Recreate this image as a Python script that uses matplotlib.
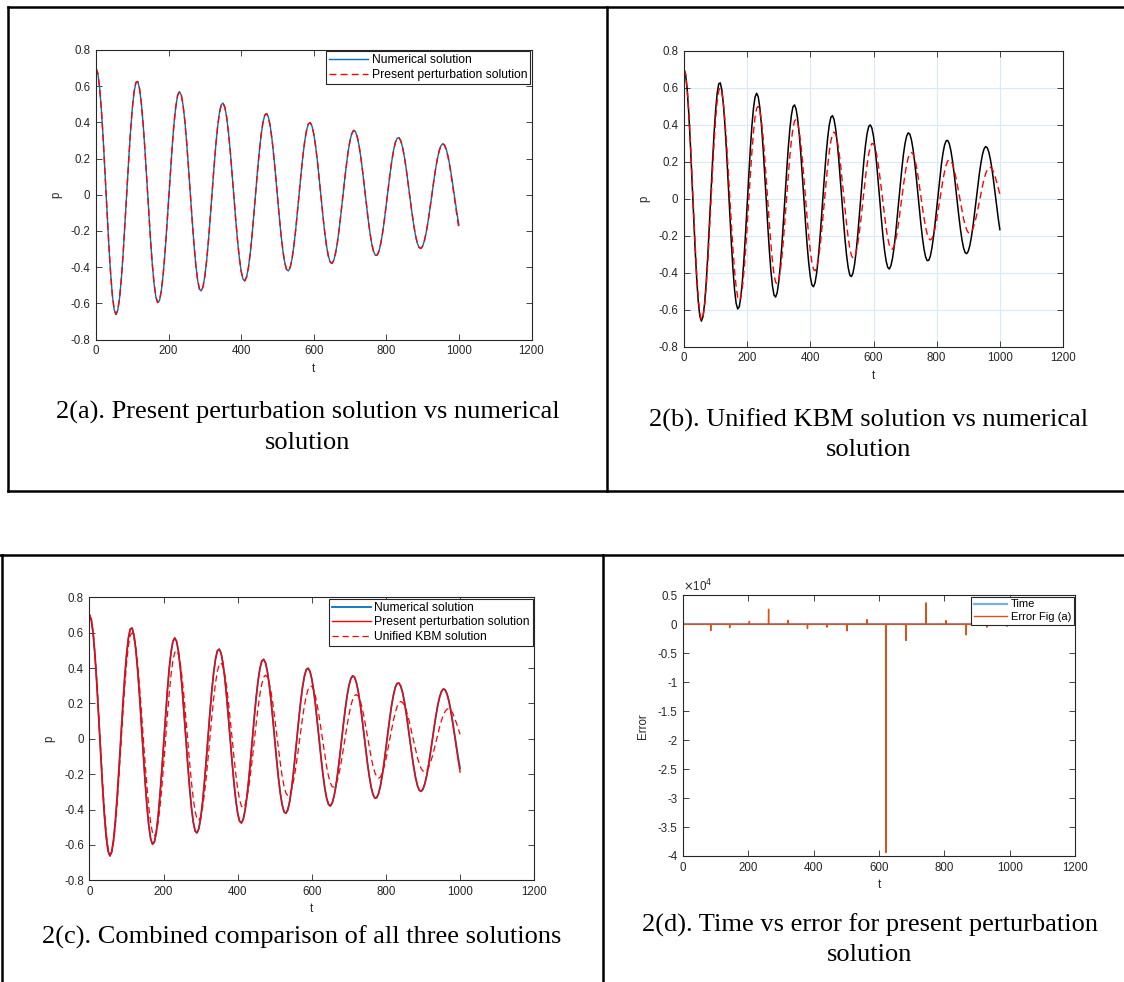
import numpy as np
import matplotlib
matplotlib.use("Agg")
import matplotlib.pyplot as plt
from matplotlib.lines import Line2D
from matplotlib.ticker import FuncFormatter, MultipleLocator

plt.rcParams['font.family'] = ['Liberation Sans', 'DejaVu Sans']
plt.rcParams['axes.unicode_minus'] = False

W, H = 1124, 982

# sampling times, every 5 units from 0 to 1000
t = np.arange(0, 1001, 5)

# numerical solution p(t)
p_num = [0.700, 0.672, 0.592, 0.465, 0.302, 0.116, -0.078, -0.264, -0.427, -0.554,
         -0.634, -0.662, -0.638, -0.570, -0.460, -0.319, -0.155, 0.019, 0.190, 0.347,
         0.476, 0.570, 0.621, 0.626, 0.586, 0.505, 0.388, 0.244, 0.083, -0.083,
         -0.241, -0.381, -0.491, -0.565, -0.596, -0.584, -0.531, -0.442, -0.323, -0.182,
         -0.029, 0.125, 0.269, 0.394, 0.489, 0.550, 0.570, 0.551, 0.494, 0.403,
         0.286, 0.149, 0.004, -0.141, -0.274, -0.387, -0.471, -0.521, -0.532, -0.508,
         -0.449, -0.361, -0.249, -0.121, 0.015, 0.148, 0.271, 0.374, 0.451, 0.497,
         0.507, 0.484, 0.429, 0.345, 0.239, 0.118, -0.010, -0.137, -0.253, -0.350,
         -0.423, -0.466, -0.476, -0.454, -0.402, -0.324, -0.224, -0.110, 0.011, 0.130,
         0.239, 0.331, 0.399, 0.440, 0.449, 0.429, 0.380, 0.306, 0.212, 0.105,
         -0.009, -0.121, -0.224, -0.310, -0.374, -0.413, -0.421, -0.402, -0.356, -0.286,
         -0.198, -0.096, 0.010, 0.116, 0.213, 0.294, 0.355, 0.391, 0.399, 0.381,
         0.337, 0.271, 0.187, 0.091, -0.010, -0.111, -0.203, -0.280, -0.337, -0.371,
         -0.380, -0.363, -0.324, -0.266, -0.190, -0.104, -0.012, 0.080, 0.166, 0.242,
         0.300, 0.339, 0.356, 0.349, 0.319, 0.270, 0.203, 0.123, 0.036, -0.053,
         -0.137, -0.212, -0.273, -0.315, -0.335, -0.333, -0.310, -0.266, -0.206, -0.133,
         -0.052, 0.032, 0.113, 0.186, 0.246, 0.290, 0.313, 0.315, 0.297, 0.260,
         0.206, 0.140, 0.065, -0.014, -0.091, -0.161, -0.221, -0.265, -0.291, -0.297,
         -0.284, -0.253, -0.207, -0.148, -0.080, -0.008, 0.065, 0.133, 0.192, 0.238,
         0.269, 0.282, 0.276, 0.253, 0.214, 0.161, 0.098, 0.030, -0.041, -0.107,
         -0.167]

# present perturbation solution p(t)
p_pert = [0.700, 0.672, 0.592, 0.465, 0.302, 0.116, -0.078, -0.264, -0.427, -0.554,
          -0.634, -0.662, -0.638, -0.570, -0.460, -0.319, -0.155, 0.019, 0.190, 0.347,
          0.476, 0.570, 0.621, 0.626, 0.586, 0.505, 0.388, 0.244, 0.083, -0.083,
          -0.241, -0.381, -0.491, -0.565, -0.596, -0.584, -0.531, -0.442, -0.323, -0.182,
          -0.029, 0.125, 0.269, 0.394, 0.489, 0.550, 0.570, 0.551, 0.494, 0.403,
          0.286, 0.149, 0.004, -0.141, -0.274, -0.387, -0.471, -0.521, -0.532, -0.508,
          -0.449, -0.361, -0.249, -0.121, 0.015, 0.148, 0.271, 0.374, 0.451, 0.497,
          0.507, 0.484, 0.429, 0.345, 0.239, 0.118, -0.010, -0.137, -0.253, -0.350,
          -0.423, -0.466, -0.476, -0.454, -0.402, -0.324, -0.224, -0.110, 0.011, 0.130,
          0.239, 0.331, 0.399, 0.440, 0.449, 0.429, 0.380, 0.306, 0.212, 0.105,
          -0.009, -0.121, -0.224, -0.310, -0.374, -0.413, -0.421, -0.402, -0.356, -0.286,
          -0.198, -0.096, 0.010, 0.116, 0.213, 0.294, 0.355, 0.391, 0.399, 0.381,
          0.337, 0.271, 0.187, 0.091, -0.010, -0.111, -0.203, -0.280, -0.337, -0.371,
          -0.380, -0.363, -0.324, -0.266, -0.190, -0.104, -0.012, 0.080, 0.166, 0.242,
          0.300, 0.339, 0.356, 0.349, 0.319, 0.270, 0.203, 0.123, 0.036, -0.053,
          -0.137, -0.212, -0.273, -0.315, -0.335, -0.333, -0.310, -0.266, -0.206, -0.133,
          -0.052, 0.032, 0.113, 0.186, 0.246, 0.290, 0.313, 0.315, 0.297, 0.260,
          0.206, 0.140, 0.065, -0.014, -0.091, -0.161, -0.221, -0.265, -0.291, -0.297,
          -0.284, -0.253, -0.207, -0.148, -0.080, -0.008, 0.065, 0.133, 0.192, 0.238,
          0.269, 0.282, 0.275, 0.250, 0.209, 0.155, 0.088, 0.018, -0.055, -0.124,
          -0.188]

# unified KBM solution p(t)
p_kbm = [0.700, 0.674, 0.596, 0.474, 0.316, 0.136, -0.054, -0.237, -0.401, -0.531,
         -0.618, -0.655, -0.641, -0.583, -0.484, -0.352, -0.196, -0.028, 0.140, 0.296,
         0.428, 0.527, 0.585, 0.599, 0.573, 0.510, 0.415, 0.295, 0.157, 0.010,
         -0.136, -0.271, -0.387, -0.475, -0.531, -0.550, -0.532, -0.477, -0.391, -0.279,
         -0.150, -0.011, 0.127, 0.253, 0.361, 0.441, 0.488, 0.499, 0.476, 0.422,
         0.341, 0.237, 0.119, -0.006, -0.130, -0.243, -0.338, -0.410, -0.451, -0.461,
         -0.440, -0.390, -0.314, -0.218, -0.109, 0.007, 0.122, 0.227, 0.315, 0.381,
         0.420, 0.429, 0.410, 0.364, 0.294, 0.206, 0.105, -0.001, -0.107, -0.203,
         -0.285, -0.345, -0.381, -0.390, -0.372, -0.331, -0.270, -0.191, -0.101, -0.005,
         0.090, 0.178, 0.254, 0.311, 0.348, 0.360, 0.349, 0.316, 0.263, 0.195,
         0.114, 0.028, -0.059, -0.141, -0.213, -0.269, -0.306, -0.322, -0.315, -0.289,
         -0.245, -0.185, -0.113, -0.035, 0.045, 0.121, 0.188, 0.243, 0.280, 0.298,
         0.297, 0.276, 0.238, 0.185, 0.121, 0.050, -0.024, -0.095, -0.159, -0.212,
         -0.250, -0.271, -0.273, -0.257, -0.226, -0.180, -0.123, -0.059, 0.008, 0.074,
         0.134, 0.185, 0.222, 0.244, 0.250, 0.242, 0.218, 0.181, 0.132, 0.075,
         0.014, -0.048, -0.105, -0.154, -0.191, -0.215, -0.223, -0.216, -0.194, -0.159,
         -0.115, -0.062, -0.006, 0.050, 0.103, 0.147, 0.182, 0.204, 0.211, 0.205,
         0.188, 0.159, 0.122, 0.079, 0.032, -0.017, -0.064, -0.107, -0.142, -0.168,
         -0.183, -0.187, -0.179, -0.162, -0.135, -0.100, -0.060, -0.017, 0.026, 0.068,
         0.105, 0.135, 0.156, 0.168, 0.170, 0.162, 0.145, 0.120, 0.090, 0.058,
         0.025]

# error of the perturbation solution, spikes near the zero crossings
err_t = [85, 143, 203, 262, 322, 381, 441, 502, 563, 621, 683, 744, 805, 867, 930, 992]
err_v = [-1100, -600, 500, 2600, 700, -750, -500, -1150, 800, -39400,
         -2800, 3700, 630, -1840, -500, -350]
time_t = [0, 1000]
time_v = [0, 0]

captions = ["2(a). Present perturbation solution vs numerical\nsolution",
            "2(b). Unified KBM solution vs numerical\nsolution",
            "2(c). Combined comparison of all three solutions",
            "2(d). Time vs error for present perturbation\nsolution"]

BLUE = '#0072BD'
ORANGE = '#D95319'
INK = '#262626'


def box(left, top, right, bottom):
    # pixel box -> figure fractions
    return [left / W, 1 - bottom / H, (right - left) / W, (bottom - top) / H]


def style(ax, ylab):
    ax.set_xlim(0, 1200)
    ax.xaxis.set_major_locator(MultipleLocator(200))
    ax.tick_params(direction='in', top=True, right=True, length=4, width=0.6,
                   labelsize=8.3, pad=4, colors=INK)
    for s in ax.spines.values():
        s.set_linewidth(0.8)
        s.set_color(INK)
    ax.set_xlabel('t', fontsize=8.3, labelpad=4, color=INK)
    ax.set_ylabel(ylab, fontsize=8.3, labelpad=6, color=INK)


def p_axis(ax):
    ax.set_ylim(-0.8, 0.8)
    ax.yaxis.set_major_locator(MultipleLocator(0.2))
    ax.yaxis.set_major_formatter(FuncFormatter(lambda v, _: '0' if abs(v) < 1e-9 else f'{v:.1f}'))


def legend(ax, size=8.7, hl=3.2):
    lg = ax.legend(loc='upper right', fontsize=size, frameon=True, fancybox=False,
                   framealpha=1, edgecolor=INK, borderaxespad=0.12,
                   handlelength=hl, handletextpad=0.3, borderpad=0.25,
                   labelspacing=0.22)
    lg.get_frame().set_linewidth(0.8)


fig = plt.figure(figsize=(W / 100, H / 100), dpi=100)

# (a) perturbation vs numerical
ax = fig.add_axes(box(96, 50, 531.5, 339.5))
ax.plot(t, p_num, color=BLUE, lw=1.0, label='Numerical solution')
ax.plot(t, p_pert, color='red', lw=1.0, dashes=(5, 3), label='Present perturbation solution')
style(ax, 'p')
p_axis(ax)
legend(ax)

# (b) KBM vs numerical
ax = fig.add_axes(box(684, 50.7, 1063, 346.7))
ax.plot(t, p_num, color='black', lw=1.1)
ax.plot(t, p_kbm, color='red', lw=1.0, dashes=(5, 3))
style(ax, 'p')
p_axis(ax)
ax.grid(True, color='#d8eaf8', lw=0.8)
ax.set_axisbelow(True)

# (c) all three
ax = fig.add_axes(box(89.5, 597.3, 534.2, 880.3))
ax.plot(t, p_num, color=BLUE, lw=1.3, label='Numerical solution')
ax.plot(t, p_pert, color='red', lw=1.0, label='Present perturbation solution')
ax.plot(t, p_kbm, color='red', lw=0.9, dashes=(5, 3), label='Unified KBM solution')
style(ax, 'p')
p_axis(ax)
legend(ax)

# (d) error vs time
ax = fig.add_axes(box(683, 595.3, 1075, 856))
et, ev = [0], [0]
for ts, v in zip(err_t, err_v):
    et += [ts - 0.7, ts, ts + 0.7]
    ev += [0, v, 0]
et.append(1000)
ev.append(0)
ax.plot(time_t, time_v, color='#76b3e3', lw=1.6, label='Time')
ax.plot(et, ev, color=ORANGE, lw=1.0, label='Error Fig (a)')
style(ax, 'Error')
ax.set_ylim(-40000, 5000)
ax.yaxis.set_major_locator(MultipleLocator(5000))
ax.yaxis.set_major_formatter(FuncFormatter(lambda v, _: f'{v / 1e4:g}'))
ax.text(0.0, 1.004, r'$\times$10$^4$', transform=ax.transAxes, fontsize=8.3,
        color=INK, va='bottom', ha='left')
legend(ax, size=8, hl=3.0)

# captions
cap_pos = [(308, 427.5), (869, 434.5), (302, 937), (870, 940)]
for (x, y), s in zip(cap_pos, captions):
    fig.text(x / W, 1 - y / H, s, family='Liberation Serif', fontsize=19,
             ha='center', va='center', linespacing=1.42)

# table rules around the panels
rules = [((8, 7), (1124, 7)), ((8, 491), (1124, 491)), ((8, 7), (8, 491)),
         ((607, 7), (607, 491)), ((0, 555), (1124, 555)), ((1.5, 555), (1.5, 982)),
         ((603, 555), (603, 982))]
for (x0, y0), (x1, y1) in rules:
    fig.add_artist(Line2D([x0 / W, x1 / W], [1 - y0 / H, 1 - y1 / H], color='black', lw=1.8))

fig.savefig('out.png', dpi=100)
